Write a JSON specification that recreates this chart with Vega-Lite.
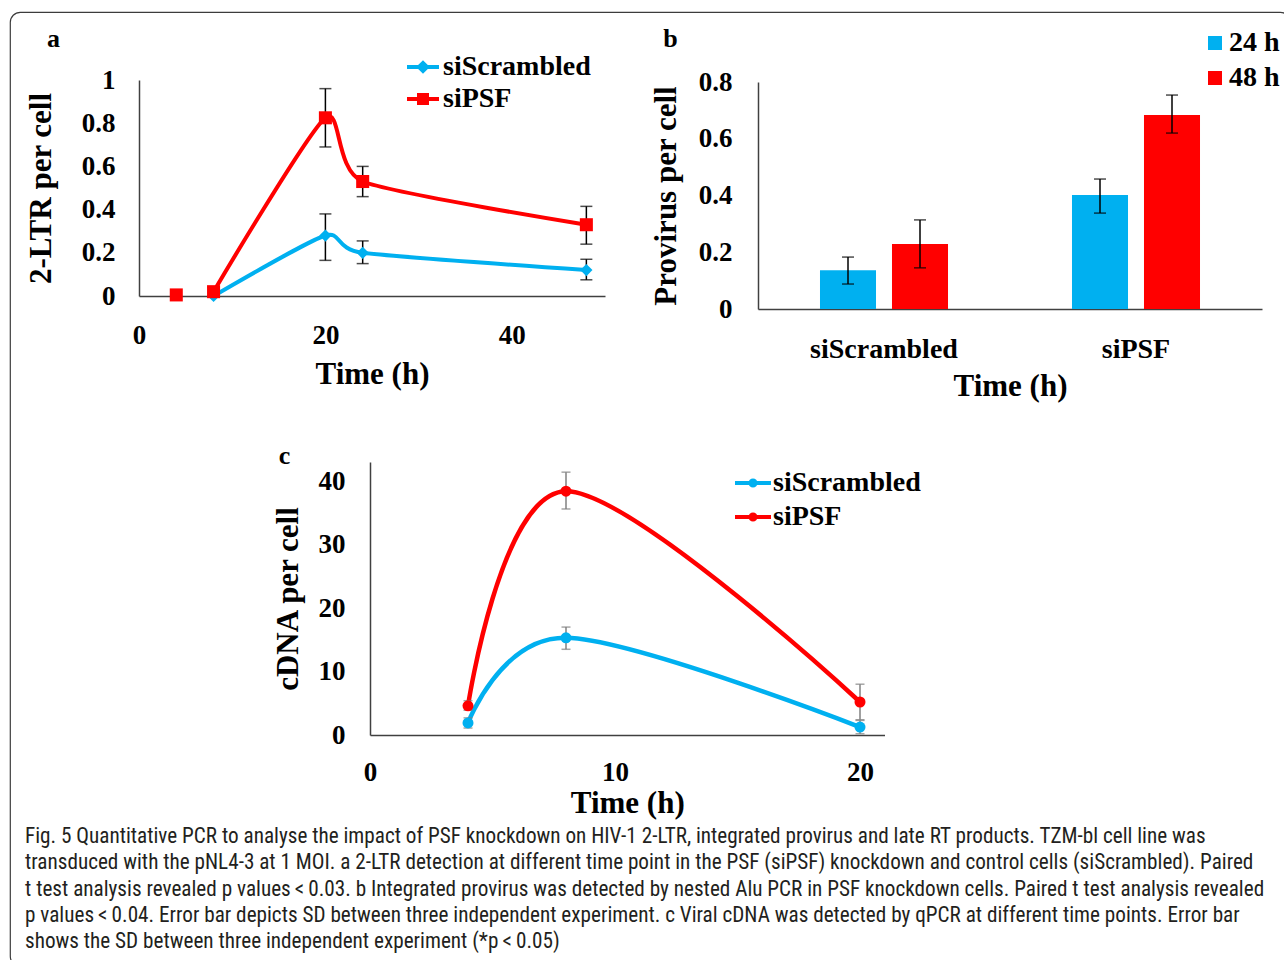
{
  "$schema": "https://vega.github.io/schema/vega-lite/v6.json",
  "width": 1280,
  "height": 954,
  "autosize": {"type": "none"},
  "padding": {"left": 10, "top": 12, "right": -6, "bottom": -6},
  "background": "white",
  "view": {"stroke": "#3c3c3c", "strokeWidth": 1.2, "cornerRadius": 10, "fill": "white"},
  "title": {
    "text": [
      "Fig. 5  Quantitative PCR to analyse the impact of PSF knockdown on HIV-1 2-LTR, integrated provirus and late RT products. TZM-bl cell line was",
      "transduced with the pNL4-3 at 1 MOI. a 2-LTR detection at different time point in the PSF (siPSF) knockdown and control cells (siScrambled). Paired",
      "t test analysis revealed p values\u2009<\u20090.03. b Integrated provirus was detected by nested Alu PCR in PSF knockdown cells. Paired t test analysis revealed",
      "p values\u2009<\u20090.04. Error bar depicts SD between three independent experiment. c Viral cDNA was detected by qPCR at different time points. Error bar",
      "shows the SD between three independent experiment (*p\u2009<\u20090.05)"
    ],
    "orient": "bottom",
    "anchor": "start",
    "frame": "group",
    "offset": -140,
    "dx": 15,
    "font": "Liberation Sans Narrow, Roboto Condensed, DejaVu Sans Condensed, Roboto, sans-serif",
    "fontSize": 21.2,
    "fontWeight": "normal",
    "color": "#231f20",
    "lineHeight": 26.3,
    "baseline": "top"
  },
  "datasets": {
    "ltr": [
      {"series": "siScrambled", "t": 8, "v": 0.0, "lo": null, "hi": null},
      {"series": "siScrambled", "t": 20, "v": 0.28, "lo": 0.165, "hi": 0.38},
      {"series": "siScrambled", "t": 24, "v": 0.2, "lo": 0.15, "hi": 0.255},
      {"series": "siScrambled", "t": 48, "v": 0.12, "lo": 0.075, "hi": 0.17},
      {"series": "siPSF", "t": 4, "v": 0.005, "lo": null, "hi": null},
      {"series": "siPSF", "t": 8, "v": 0.02, "lo": 0.0, "hi": 0.04},
      {"series": "siPSF", "t": 20, "v": 0.825, "lo": 0.69, "hi": 0.96},
      {"series": "siPSF", "t": 24, "v": 0.53, "lo": 0.46, "hi": 0.6},
      {"series": "siPSF", "t": 48, "v": 0.33, "lo": 0.24, "hi": 0.415}
    ],
    "provirus": [
      {"group": "siScrambled", "time": "24 h", "v": 0.137, "lo": 0.088, "hi": 0.183},
      {"group": "siScrambled", "time": "48 h", "v": 0.229, "lo": 0.145, "hi": 0.314},
      {"group": "siPSF", "time": "24 h", "v": 0.402, "lo": 0.338, "hi": 0.458},
      {"group": "siPSF", "time": "48 h", "v": 0.684, "lo": 0.62, "hi": 0.754}
    ],
    "cdna": [
      {"series": "siScrambled", "t": 4, "v": 1.9, "lo": 1.1, "hi": 2.7},
      {"series": "siScrambled", "t": 8, "v": 15.3, "lo": 13.5, "hi": 17.0},
      {"series": "siScrambled", "t": 20, "v": 1.25, "lo": 0.2, "hi": 2.3},
      {"series": "siPSF", "t": 4, "v": 4.6, "lo": 3.9, "hi": 5.4},
      {"series": "siPSF", "t": 8, "v": 38.4, "lo": 35.6, "hi": 41.4},
      {"series": "siPSF", "t": 20, "v": 5.2, "lo": 2.4, "hi": 8.0}
    ]
  },
  "config": {
    "axis": {
      "grid": false,
      "ticks": false,
      "labelFlush": false,
      "domainColor": "#404040",
      "domainWidth": 1.5,
      "labelFont": "Liberation Serif",
      "labelFontWeight": "bold",
      "labelFontSize": 27,
      "labelColor": "#000000",
      "titleFont": "Liberation Serif",
      "titleFontWeight": "bold",
      "titleFontSize": 31,
      "titleColor": "#000000"
    },
    "legend": {
      "labelFont": "Liberation Serif",
      "labelFontWeight": "bold",
      "labelFontSize": 28,
      "labelColor": "#000000"
    }
  },
  "resolve": {
    "scale": {"x": "independent", "y": "independent", "color": "independent", "xOffset": "independent"},
    "axis": {"x": "independent", "y": "independent"},
    "legend": {"color": "independent"}
  },
  "layer": [
    {
      "data": {"name": "ltr"},
      "resolve": {"axis": {"x": "independent", "y": "independent"}},
      "layer": [
        {
          "mark": {"type": "line", "interpolate": "cardinal", "tension": 0.35, "strokeWidth": 4},
          "transform": [{"filter": "datum.t >= 8"}],
          "encoding": {
            "x": {"field": "t", "type": "quantitative",
              "scale": {"domain": [0, 50], "range": [129, 595], "nice": false, "zero": false},
              "axis": {"orient": "bottom", "offset": -670, "values": [0, 20, 40], "labelPadding": 26, "title": "Time (h)", "titlePadding": 11}},
            "y": {"field": "v", "type": "quantitative",
              "scale": {"domain": [0, 1], "range": [284, 68], "nice": false},
              "axis": {"orient": "left", "offset": -129, "values": [0, 0.2, 0.4, 0.6, 0.8, 1], "format": "~g", "labelPadding": 24, "title": "2-LTR per cell", "titlePadding": 24}},
            "color": {"field": "series", "type": "nominal",
              "scale": {"domain": ["siScrambled", "siPSF"], "range": ["#00b0f0", "#ff0000"]},
              "legend": {"orient": "none", "legendX": 395, "legendY": 37, "title": null,
                "symbolType": "M-1,0H1M-0.25,0L0,-0.25L0.25,0L0,0.25Z",
                "symbolSize": 1024, "symbolStrokeWidth": 4, "labelOffset": 2, "rowPadding": -1,
                "encode": {"symbols": {"update": {"shape": {"signal": "datum.value === 'siPSF' ? 'M-1,0H1M-0.25,-0.25H0.25V0.25H-0.25Z' : 'M-1,0H1M-0.25,0L0,-0.25L0.25,0L0,0.25Z'"}}}}}}
          }
        },
        {
          "mark": {"type": "rule", "color": "#000000", "strokeWidth": 1.5},
          "encoding": {
            "x": {"field": "t", "type": "quantitative",
              "axis": {"orient": "top", "domain": false, "labels": false, "title": "a", "titleX": 43, "titleY": 26, "titleAngle": 0, "titleAlign": "center", "titleBaseline": "middle", "titleFontSize": 26}},
            "y": {"field": "lo", "type": "quantitative", "axis": null},
            "y2": {"field": "hi"}
          }
        },
        {
          "mark": {"type": "tick", "orient": "horizontal", "color": "#000000", "thickness": 1.5, "size": 12},
          "encoding": {
            "x": {"field": "t", "type": "quantitative", "axis": null},
            "y": {"field": "lo", "type": "quantitative", "axis": null}
          }
        },
        {
          "mark": {"type": "tick", "orient": "horizontal", "color": "#000000", "thickness": 1.5, "size": 12},
          "encoding": {
            "x": {"field": "t", "type": "quantitative", "axis": null},
            "y": {"field": "hi", "type": "quantitative", "axis": null}
          }
        },
        {
          "transform": [{"filter": "datum.series === 'siScrambled'"}],
          "mark": {"type": "point", "shape": "diamond", "filled": true, "size": 150, "opacity": 1},
          "encoding": {
            "x": {"field": "t", "type": "quantitative", "axis": null},
            "y": {"field": "v", "type": "quantitative", "axis": null},
            "color": {"field": "series", "type": "nominal", "legend": null}
          }
        },
        {
          "transform": [{"filter": "datum.series === 'siPSF'"}],
          "mark": {"type": "point", "shape": "square", "filled": true, "size": 170, "opacity": 1},
          "encoding": {
            "x": {"field": "t", "type": "quantitative", "axis": null},
            "y": {"field": "v", "type": "quantitative", "axis": null},
            "color": {"field": "series", "type": "nominal", "legend": null}
          }
        }
      ]
    },
    {
      "data": {"name": "provirus"},
      "resolve": {"axis": {"x": "independent", "y": "independent"}},
      "layer": [
        {
          "mark": {"type": "bar"},
          "encoding": {
            "x": {"field": "group", "type": "nominal", "sort": ["siScrambled", "siPSF"],
              "scale": {"range": [748, 1252], "paddingInner": 0, "paddingOuter": 0},
              "axis": {"orient": "bottom", "offset": -657, "labelAngle": 0, "labelPadding": 26, "labelFontSize": 28, "title": "Time (h)", "titlePadding": 8}},
            "xOffset": {"field": "time", "type": "nominal", "sort": ["24 h", "48 h"],
              "scale": {"paddingInner": 0.222, "paddingOuter": 0.861}},
            "y": {"field": "v", "type": "quantitative",
              "scale": {"domain": [0, 0.8], "range": [297, 70], "nice": false},
              "axis": {"orient": "left", "offset": -748, "values": [0, 0.2, 0.4, 0.6, 0.8], "format": "~g", "labelPadding": 26, "title": "Provirus per cell", "titlePadding": 16}},
            "color": {"field": "time", "type": "nominal",
              "scale": {"domain": ["24 h", "48 h"], "range": ["#00b0f0", "#ff0000"]},
              "legend": {"orient": "none", "legendX": 1191, "legendY": 17, "title": null,
                "symbolType": "square", "symbolSize": 196, "labelOffset": 0, "rowPadding": 7}}
          }
        },
        {
          "mark": {"type": "rule", "color": "#000000", "strokeWidth": 1.5},
          "encoding": {
            "x": {"field": "group", "type": "nominal", "sort": ["siScrambled", "siPSF"],
              "axis": {"orient": "top", "domain": false, "labels": false, "title": "b", "titleX": 660, "titleY": 26, "titleAngle": 0, "titleAlign": "center", "titleBaseline": "middle", "titleFontSize": 26}},
            "xOffset": {"field": "time", "type": "nominal", "sort": ["24 h", "48 h"]},
            "y": {"field": "lo", "type": "quantitative", "axis": null},
            "y2": {"field": "hi"}
          }
        },
        {
          "mark": {"type": "tick", "orient": "horizontal", "color": "#000000", "thickness": 1.5, "size": 12},
          "encoding": {
            "x": {"field": "group", "type": "nominal", "sort": ["siScrambled", "siPSF"], "axis": null},
            "xOffset": {"field": "time", "type": "nominal", "sort": ["24 h", "48 h"]},
            "y": {"field": "lo", "type": "quantitative", "axis": null}
          }
        },
        {
          "mark": {"type": "tick", "orient": "horizontal", "color": "#000000", "thickness": 1.5, "size": 12},
          "encoding": {
            "x": {"field": "group", "type": "nominal", "sort": ["siScrambled", "siPSF"], "axis": null},
            "xOffset": {"field": "time", "type": "nominal", "sort": ["24 h", "48 h"]},
            "y": {"field": "hi", "type": "quantitative", "axis": null}
          }
        }
      ]
    },
    {
      "data": {"name": "cdna"},
      "resolve": {"axis": {"x": "independent", "y": "independent"}},
      "layer": [
        {
          "mark": {"type": "line", "interpolate": "cardinal", "strokeWidth": 4.5},
          "encoding": {
            "x": {"field": "t", "type": "quantitative",
              "scale": {"domain": [0, 21], "range": [360, 874.5], "nice": false, "zero": false},
              "axis": {"orient": "bottom", "offset": -231, "values": [0, 10, 20], "labelPadding": 24, "title": "Time (h)", "titlePadding": 3}},
            "y": {"field": "v", "type": "quantitative",
              "scale": {"domain": [0, 43], "range": [723, 450], "nice": false},
              "axis": {"orient": "left", "offset": -360, "values": [0, 10, 20, 30, 40], "labelPadding": 25, "title": "cDNA per cell", "titlePadding": 14}},
            "color": {"field": "series", "type": "nominal",
              "scale": {"domain": ["siScrambled", "siPSF"], "range": ["#00b0f0", "#ff0000"]},
              "legend": {"orient": "none", "legendX": 723, "legendY": 451, "title": null,
                "symbolType": "M-1,0H1M0.14,0A0.14,0.14 0 1,1 -0.14,0A0.14,0.14 0 1,1 0.14,0Z",
                "symbolSize": 1296, "symbolStrokeWidth": 4, "labelOffset": 0, "rowPadding": 0}}
          }
        },
        {
          "mark": {"type": "rule", "color": "#808080", "strokeWidth": 1.5},
          "encoding": {
            "x": {"field": "t", "type": "quantitative",
              "axis": {"orient": "top", "domain": false, "labels": false, "title": "c", "titleX": 274, "titleY": 443, "titleAngle": 0, "titleAlign": "center", "titleBaseline": "middle", "titleFontSize": 26}},
            "y": {"field": "lo", "type": "quantitative", "axis": null},
            "y2": {"field": "hi"}
          }
        },
        {
          "mark": {"type": "tick", "orient": "horizontal", "color": "#808080", "thickness": 1.5, "size": 9},
          "encoding": {
            "x": {"field": "t", "type": "quantitative", "axis": null},
            "y": {"field": "lo", "type": "quantitative", "axis": null}
          }
        },
        {
          "mark": {"type": "tick", "orient": "horizontal", "color": "#808080", "thickness": 1.5, "size": 9},
          "encoding": {
            "x": {"field": "t", "type": "quantitative", "axis": null},
            "y": {"field": "hi", "type": "quantitative", "axis": null}
          }
        },
        {
          "mark": {"type": "point", "filled": true, "shape": "circle", "size": 121, "opacity": 1},
          "encoding": {
            "x": {"field": "t", "type": "quantitative", "axis": null},
            "y": {"field": "v", "type": "quantitative", "axis": null},
            "color": {"field": "series", "type": "nominal", "legend": null}
          }
        }
      ]
    }
  ]
}
